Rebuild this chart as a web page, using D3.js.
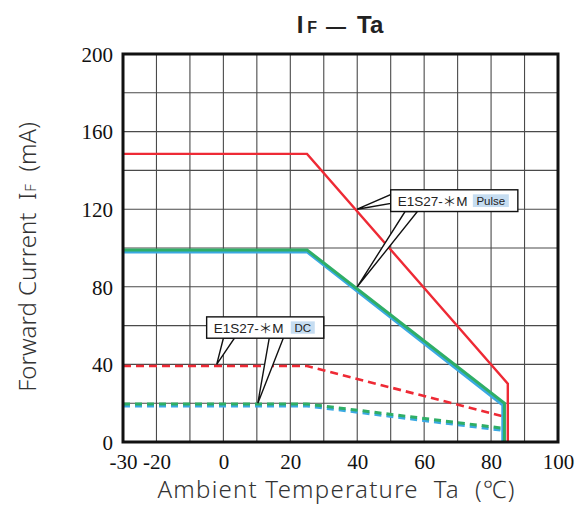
<!DOCTYPE html>
<html lang="en">
  <head>
    <meta charset="UTF-8" />
    <title>IF - Ta</title>
    <script src="https://cdn.jsdelivr.net/npm/d3@7"></script>
    <style>
      body { margin: 0; background: #fff; }
    </style>
  </head>
  <body>
    <svg width="576" height="506"></svg>
  </body>

  <script>
    // 数据: 温度 Ta (℃) / 正向电流 IF (mA)
    var xTicks = [-30, -20, 0, 20, 40, 60, 80, 100];
    var yTicks = [0, 40, 80, 120, 160, 200];

    var pulseRedTa = [-30, 25, 85, 85];
    var pulseRedIf = [148.5, 148.5, 30, 0];
    var pulseGreenTa = [-30, 25, 84, 84];
    var pulseGreenIf = [99, 99, 20, 0];
    var pulseBlueTa = [-30, 25, 83.5, 83.5];
    var pulseBlueIf = [98, 98, 19, 0];

    var dcRedTa = [-30, 25, 84];
    var dcRedIf = [39.2, 39.2, 13];
    var dcGreenTa = [-30, 25, 84];
    var dcGreenIf = [19.6, 19.6, 7];
    var dcBlueTa = [-30, 25, 83.5];
    var dcBlueIf = [18.6, 18.6, 6];

    var margin = { left: 123, right: 18, top: 54, bottom: 64 };

    var svg = d3.select('svg');
    var width = +svg.attr('width');
    var height = +svg.attr('height');
    var w = width - margin.left - margin.right;
    var h = height - margin.top - margin.bottom;

    var g = svg.append('g').attr('transform', 'translate(' + margin.left + ',' + margin.top + ')');

    var x = d3.scaleLinear().domain([-30, 100]).range([0, w]);
    var y = d3.scaleLinear().domain([0, 200]).range([h, 0]);

    // 网格线
    g.append('g')
      .selectAll('line')
      .data(d3.range(-20, 100, 10))
      .enter()
      .append('line')
      .attr('x1', function (d) { return x(d); })
      .attr('x2', function (d) { return x(d); })
      .attr('y1', 0)
      .attr('y2', h)
      .attr('stroke', '#4a4a4a')
      .attr('stroke-width', 1.1);
    g.append('g')
      .selectAll('line')
      .data(d3.range(20, 200, 20))
      .enter()
      .append('line')
      .attr('x1', 0)
      .attr('x2', w)
      .attr('y1', function (d) { return y(d); })
      .attr('y2', function (d) { return y(d); })
      .attr('stroke', '#4a4a4a')
      .attr('stroke-width', 1.1);

    // 刻度文字 (用 axis 生成, 去掉线); 负号用普通连字符
    var fmt = function (d) { return String(d); };
    var axisX = d3.axisBottom(x).tickValues(xTicks).tickFormat(fmt).tickSize(0).tickPadding(12);
    var axisY = d3.axisLeft(y).tickValues(yTicks).tickFormat(fmt).tickSize(0).tickPadding(10);
    var gx = g.append('g').attr('transform', 'translate(0,' + h + ')').call(axisX);
    var gy = g.append('g').call(axisY);
    [gx, gy].forEach(function (a) {
      a.select('.domain').remove();
      a.selectAll('text')
        .attr('font-family', '"Liberation Serif", "DejaVu Serif", serif')
        .attr('font-size', 21)
        .attr('fill', '#111');
    });
    gy.selectAll('text').attr('dy', '0.35em');

    // 曲线
    var line = d3.line()
      .x(function (d) { return x(d[0]); })
      .y(function (d) { return y(d[1]); });

    function series(ta, vals) {
      return ta.map(function (t, i) { return [t, vals[i]]; });
    }

    var curves = [
      { pts: series(dcRedTa, dcRedIf), color: '#ee2a35', width: 2.6, dash: '8,5' },
      { pts: series(dcBlueTa, dcBlueIf), color: '#3aa9e2', width: 3, dash: '7,5' },
      { pts: series(dcGreenTa, dcGreenIf), color: '#2fae66', width: 3, dash: '7,5' },
      { pts: series(pulseRedTa, pulseRedIf), color: '#ee2a35', width: 2.4, dash: null },
      { pts: series(pulseBlueTa, pulseBlueIf), color: '#3aa9e2', width: 3, dash: null },
      { pts: series(pulseGreenTa, pulseGreenIf), color: '#2fae66', width: 3, dash: null }
    ];

    g.append('g')
      .selectAll('path')
      .data(curves)
      .enter()
      .append('path')
      .attr('d', function (d) { return line(d.pts); })
      .attr('fill', 'none')
      .attr('stroke', function (d) { return d.color; })
      .attr('stroke-width', function (d) { return d.width; })
      .attr('stroke-dasharray', function (d) { return d.dash; })
      .attr('stroke-linejoin', 'miter');

    // 外框
    g.append('rect')
      .attr('x', 0)
      .attr('y', 0)
      .attr('width', w)
      .attr('height', h)
      .attr('fill', 'none')
      .attr('stroke', '#111')
      .attr('stroke-width', 3);

    // 标注框 (数据坐标)
    var callouts = [
      {
        box: [50, 130, 88, 118.8],
        tag: 'Pulse',
        tails: [
          [[50, 127.5], [50, 123], [40, 120]],
          [[54.3, 118.8], [58, 118.8], [40, 80]]
        ]
      },
      {
        box: [-5, 64.5, 30, 53.5],
        tag: 'DC',
        tails: [
          [[0, 53.5], [3.3, 53.5], [-2, 40]],
          [[13.7, 53.5], [17.9, 53.5], [10.3, 20]]
        ]
      }
    ];

    var cg = g.selectAll('.callout').data(callouts).enter().append('g');

    cg.each(function (c) {
      var el = d3.select(this);
      c.tails.forEach(function (t) {
        el.append('path')
          .attr('d', 'M' + t.map(function (p) { return x(p[0]) + ',' + y(p[1]); }).join('L') + 'Z')
          .attr('fill', '#fff')
          .attr('stroke', '#111')
          .attr('stroke-width', 1.4)
          .attr('stroke-linejoin', 'miter');
      });
      var bx = x(c.box[0]), by = y(c.box[1]);
      var bw = x(c.box[2]) - bx, bh = y(c.box[3]) - by;
      el.append('rect')
        .attr('x', bx)
        .attr('y', by)
        .attr('width', bw)
        .attr('height', bh)
        .attr('fill', '#fff')
        .attr('stroke', '#111')
        .attr('stroke-width', 1.4);
      el.append('text')
        .attr('x', bx + 7)
        .attr('y', by + bh / 2 + 5.5)
        .attr('font-family', '"Liberation Sans", "Noto Sans CJK JP", sans-serif')
        .attr('font-size', 13.5)
        .attr('fill', '#222')
        .text('E1S27-＊M');
      var tagW = c.tag === 'DC' ? 24 : 36;
      var tx = bx + bw - 9 - tagW;
      el.append('rect')
        .attr('x', tx)
        .attr('y', by + 4.5)
        .attr('width', tagW)
        .attr('height', bh - 9)
        .attr('fill', '#c6ddf1');
      el.append('text')
        .attr('x', tx + tagW / 2)
        .attr('y', by + bh / 2 + 4)
        .attr('text-anchor', 'middle')
        .attr('font-family', '"Liberation Sans", Arial, sans-serif')
        .attr('font-size', 11.5)
        .attr('fill', '#222')
        .text(c.tag);
    });

    // 标题
    var title = svg.append('text')
      .attr('x', 340)
      .attr('y', 33)
      .attr('text-anchor', 'middle')
      .attr('font-family', '"Liberation Sans", Arial, sans-serif')
      .attr('font-weight', 'bold')
      .attr('font-size', 24)
      .attr('fill', '#222');
    title.append('tspan').text('I');
    title.append('tspan').attr('font-size', 16).attr('dx', 4).text('F');
    title.append('tspan').attr('font-size', 20).attr('dx', 9).text('—');
    title.append('tspan').attr('dx', 11).text('Ta');

    // 轴标题
    var yl = svg.append('text')
      .attr('transform', 'translate(36,257) rotate(-90)')
      .attr('text-anchor', 'middle')
      .attr('font-family', '"Noto Sans", "Liberation Sans", sans-serif')
      .attr('font-weight', 300)
      .attr('font-size', 24)
      .attr('fill', '#333')
      .style('white-space', 'pre');
    yl.append('tspan').text('Forward Current  I');
    yl.append('tspan').attr('font-size', 15).attr('dx', 1).text('F');
    yl.append('tspan').text('  (mA)');

    svg.append('text')
      .attr('x', 336)
      .attr('y', 498)
      .attr('text-anchor', 'middle')
      .attr('font-family', '"Noto Sans", "Noto Sans CJK JP", sans-serif')
      .attr('font-weight', 300)
      .attr('font-size', 24)
      .attr('fill', '#333')
      .attr('textLength', 357)
      .attr('lengthAdjust', 'spacing')
      .style('white-space', 'pre')
      .text('Ambient Temperature  Ta  (℃)');
  </script>
</html>
